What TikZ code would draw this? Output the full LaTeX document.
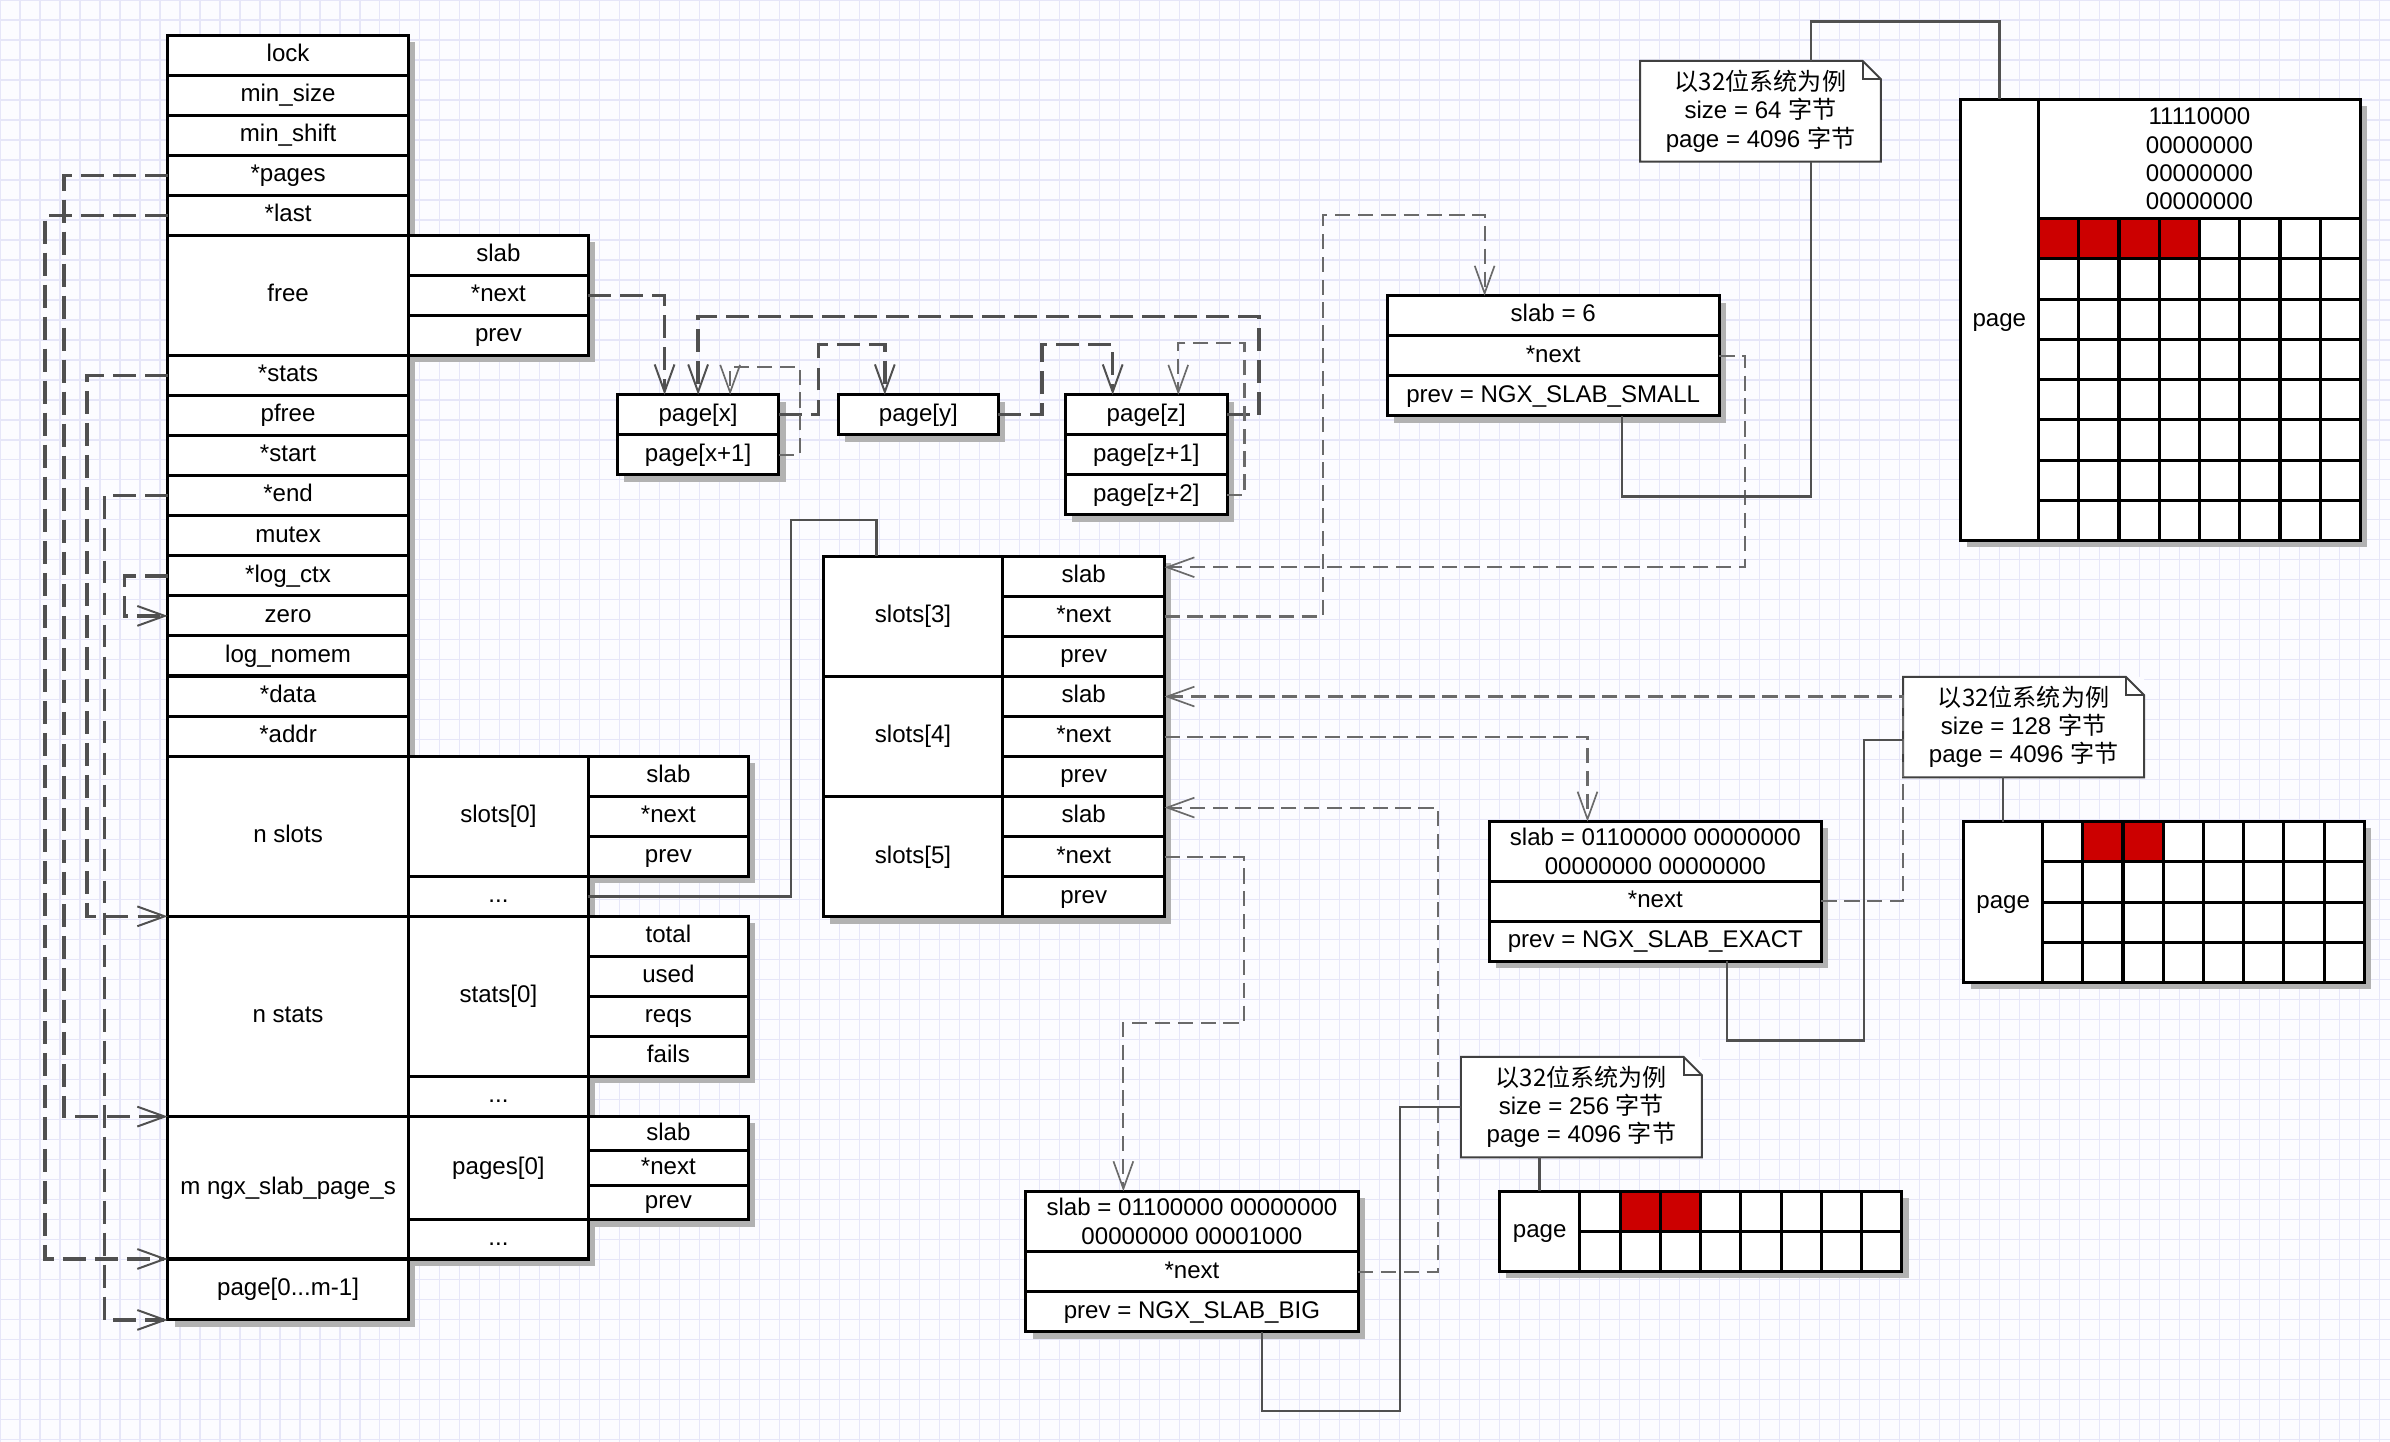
\documentclass[tikz,border=0pt]{standalone}
\usepackage{fontspec}
\setmainfont{Liberation Sans}
\newfontfamily\cjk{Noto Sans CJK SC}
\usetikzlibrary{arrows.meta,shadows}

\definecolor{paper}{RGB}{252,252,255}
\definecolor{gridline}{RGB}{230,230,248}
\definecolor{usedbit}{RGB}{204,0,0}
\definecolor{wire}{RGB}{80,80,80}

% note with a folded corner
\newcommand{\dogear}[1]{%
  \fill[paper] ([xshift = -12pt] #1.north east) -- (#1.north east) -- ([yshift = -12pt] #1.north east) -- cycle;
  \draw[notefrm] (#1.south west) -- (#1.north west) -- ([xshift = -12pt] #1.north east)
    -- ([yshift = -12pt] #1.north east) -- (#1.south east) -- cycle;
  \draw[notefrm] ([xshift = -12pt] #1.north east) |- ([yshift = -12pt] #1.north east);
}

\tikzset{
  cellbase/.style = {draw, line width = 2pt, fill = white, inner sep = 0pt,
    outer sep = 0pt, anchor = north west, minimum height = 26.28pt,
    align = center, font = \fontsize{15.8}{18.5}\selectfont,
    text height = 11.6pt, text depth = 3.4pt},
  twoline/.style = {text height = {}, text depth = {}},
  field/.style = {cellbase, drop shadow = {shadow xshift = 4.5pt,
    shadow yshift = -4.5pt, opacity = 1, fill = black!30}},
  maincol/.style = {field, minimum width = 158pt},
  subcol/.style = {field, minimum width = 118pt},
  leafcol/.style = {field, minimum width = 105pt},
  pagecol/.style = {field, minimum width = 106pt},
  infocol/.style = {field, minimum width = 218pt},
  memo/.style = {fill = white, inner sep = 0pt, outer sep = 0pt, anchor = north west,
    minimum width = 158pt, minimum height = 66pt, align = center,
    font = \fontsize{15.8}{18.5}\selectfont},
  notefrm/.style = {line width = 1.3pt, draw = black!75},
  bitcell/.style = {draw, line width = 2pt, fill = white},
  ptr/.style = {draw = wire, line width = 2.2pt, dash pattern = on 15pt off 6pt,
    -{Straight Barb[length = 18pt, width = 13pt, line width = 1.3pt]}},
  weakptr/.style = {draw = wire!85, line width = 1.4pt, dash pattern = on 10pt off 5pt,
    -{Straight Barb[length = 18pt, width = 13pt, line width = 1.1pt]}},
  solidlink/.style = {draw = wire, line width = 1.6pt}
}

\begin{document}
\begin{tikzpicture}[x = 1pt, y = -1pt]
      \useasboundingbox (0, 0) rectangle (1568, 946);

      % background
      % ----------
      \fill[paper] (0, 0) rectangle (1568, 946);
      \draw[gridline, line width = 0.7pt, xstep = 13.12pt, ystep = 13.12pt] (0, 946) grid (1568, 0);

      % slab pool
      % ---------
      \node[maincol] (lock) at (110, 23) {lock};
      \node[maincol] (minsize) at (lock.south west) {min\_size};
      \node[maincol] (minshift) at (minsize.south west) {min\_shift};
      \node[maincol] (pages) at (minshift.south west) {*pages};
      \node[maincol] (last) at (pages.south west) {*last};
      \node[maincol, minimum height = 78.84pt] (free) at (last.south west) {free};
      \node[maincol] (stats) at (free.south west) {*stats};
      \node[maincol] (pfree) at (stats.south west) {pfree};
      \node[maincol] (start) at (pfree.south west) {*start};
      \node[maincol] (endp) at (start.south west) {*end};
      \node[maincol] (mutex) at (endp.south west) {mutex};
      \node[maincol] (logctx) at (mutex.south west) {*log\_ctx};
      \node[maincol] (zero) at (logctx.south west) {zero};
      \node[maincol] (lognomem) at (zero.south west) {log\_nomem};
      \node[maincol] (data) at (lognomem.south west) {*data};
      \node[maincol] (addr) at (data.south west) {*addr};
      \node[maincol, minimum height = 105.12pt] (nslots) at (addr.south west) {n slots};
      \node[maincol, minimum height = 131.4pt] (nstats) at (nslots.south west) {n stats};
      \node[maincol, minimum height = 93.4pt] (mpages) at (nstats.south west) {m ngx\_slab\_page\_s};
      \node[maincol, minimum height = 40pt] (pagearr) at (mpages.south west) {page[0...m-1]};

      \node[subcol] (freeslab) at (free.north east) {slab};
      \node[subcol] (freenext) at (freeslab.south west) {*next};
      \node[subcol] (freeprev) at (freenext.south west) {prev};

      \node[subcol, minimum height = 78.84pt] (slotzero) at (nslots.north east) {slots[0]};
      \node[subcol] (slotdots) at (slotzero.south west) {...};
      \node[leafcol] (szslab) at (slotzero.north east) {slab};
      \node[leafcol] (sznext) at (szslab.south west) {*next};
      \node[leafcol] (szprev) at (sznext.south west) {prev};

      \node[subcol, minimum height = 105.12pt] (statzero) at (nstats.north east) {stats[0]};
      \node[subcol] (statdots) at (statzero.south west) {...};
      \node[leafcol] (sttotal) at (statzero.north east) {total};
      \node[leafcol] (stused) at (sttotal.south west) {used};
      \node[leafcol] (streqs) at (stused.south west) {reqs};
      \node[leafcol] (stfails) at (streqs.south west) {fails};

      \node[subcol, minimum height = 67.6pt] (pagezero) at (mpages.north east) {pages[0]};
      \node[subcol, minimum height = 25.8pt] (pagedots) at (pagezero.south west) {...};
      \node[leafcol, minimum height = 22.53pt] (pzslab) at (pagezero.north east) {slab};
      \node[leafcol, minimum height = 22.53pt] (pznext) at (pzslab.south west) {*next};
      \node[leafcol, minimum height = 22.54pt] (pzprev) at (pznext.south west) {prev};

      % free pages
      % ----------
      \node[pagecol] (pagex) at (405, 259) {page[x]};
      \node[pagecol] (pagexa) at (pagex.south west) {page[x+1]};
      \node[pagecol, minimum width = 105pt] (pagey) at (550, 259) {page[y]};
      \node[pagecol] (pagez) at (699, 259) {page[z]};
      \node[pagecol] (pageza) at (pagez.south west) {page[z+1]};
      \node[pagecol] (pagezb) at (pageza.south west) {page[z+2]};

      % slots
      % -----
      \node[subcol, minimum height = 78.84pt] (slotthree) at (540, 365) {slots[3]};
      \node[leafcol, minimum width = 106pt] (s3slab) at (slotthree.north east) {slab};
      \node[leafcol, minimum width = 106pt] (s3next) at (s3slab.south west) {*next};
      \node[leafcol, minimum width = 106pt] (s3prev) at (s3next.south west) {prev};
      \node[subcol, minimum height = 78.84pt] (slotfour) at (slotthree.south west) {slots[4]};
      \node[leafcol, minimum width = 106pt] (s4slab) at (slotfour.north east) {slab};
      \node[leafcol, minimum width = 106pt] (s4next) at (s4slab.south west) {*next};
      \node[leafcol, minimum width = 106pt] (s4prev) at (s4next.south west) {prev};
      \node[subcol, minimum height = 78.84pt] (slotfive) at (slotfour.south west) {slots[5]};
      \node[leafcol, minimum width = 106pt] (s5slab) at (slotfive.north east) {slab};
      \node[leafcol, minimum width = 106pt] (s5next) at (s5slab.south west) {*next};
      \node[leafcol, minimum width = 106pt] (s5prev) at (s5next.south west) {prev};

      % page headers
      % ------------
      \node[infocol] (smslab) at (910, 194) {slab = 6};
      \node[infocol] (smnext) at (smslab.south west) {*next};
      \node[infocol] (smprev) at (smnext.south west) {prev = NGX\_SLAB\_SMALL};

      \node[infocol, twoline, minimum height = 39pt] (exslab) at (977, 539) {slab = 01100000 00000000\\00000000 00000000};
      \node[infocol] (exnext) at (exslab.south west) {*next};
      \node[infocol] (exprev) at (exnext.south west) {prev = NGX\_SLAB\_EXACT};

      \node[infocol, twoline, minimum height = 39.7pt] (bgslab) at (673, 781.5) {slab = 01100000 00000000\\00000000 00001000};
      \node[infocol] (bgnext) at (bgslab.south west) {*next};
      \node[infocol] (bgprev) at (bgnext.south west) {prev = NGX\_SLAB\_BIG};

      % notes
      % -----
      \node[memo] (noteone) at (1076, 40) {{\cjk 以32位系统为例}\\size = 64 {\cjk 字节}\\page = 4096 {\cjk 字节}};
      \dogear{noteone}
      \node[memo] (notetwo) at (1248.6, 444) {{\cjk 以32位系统为例}\\size = 128 {\cjk 字节}\\page = 4096 {\cjk 字节}};
      \dogear{notetwo}
      \node[memo] (notethree) at (958.5, 693.3) {{\cjk 以32位系统为例}\\size = 256 {\cjk 字节}\\page = 4096 {\cjk 字节}};
      \dogear{notethree}

      % pages
      % -----
      \node[field, minimum width = 262.6pt, minimum height = 289.6pt] (pgone) at (1286, 65) {};
      \node[cellbase, minimum width = 51.4pt, minimum height = 289.6pt] (pgonelabel) at (pgone.north west) {page};
      \node[cellbase, twoline, minimum width = 211.2pt, minimum height = 78.4pt] (pgonebits) at (pgonelabel.north east) {11110000\\00000000\\00000000\\00000000};
      \foreach \row in {0, ..., 7}
        \foreach \col in {0, ..., 7}
          \draw[bitcell] ([shift = {({26.4*\col}, {26.4*\row})}] pgonebits.south west) rectangle ++(26.4, 26.4);
      \foreach \col in {0, ..., 3}
        \draw[bitcell, fill = usedbit] ([shift = {({26.4*\col}, 0)}] pgonebits.south west) rectangle ++(26.4, 26.4);

      \node[field, minimum width = 262.8pt, minimum height = 105.6pt] (pgtwo) at (1288.4, 539) {};
      \node[cellbase, minimum width = 51.6pt, minimum height = 105.6pt] (pgtwolabel) at (pgtwo.north west) {page};
      \foreach \row in {0, ..., 3}
        \foreach \col in {0, ..., 7}
          \draw[bitcell] ([shift = {({26.4*\col}, {26.4*\row})}] pgtwolabel.north east) rectangle ++(26.4, 26.4);
      \foreach \col in {1, 2}
        \draw[bitcell, fill = usedbit] ([shift = {({26.4*\col}, 0)}] pgtwolabel.north east) rectangle ++(26.4, 26.4);

      \node[field, minimum width = 264pt, minimum height = 52.8pt] (pgthree) at (983.7, 781.4) {};
      \node[cellbase, minimum width = 52.8pt, minimum height = 52.8pt] (pgthreelabel) at (pgthree.north west) {page};
      \foreach \row in {0, 1}
        \foreach \col in {0, ..., 7}
          \draw[bitcell] ([shift = {({26.4*\col}, {26.4*\row})}] pgthreelabel.north east) rectangle ++(26.4, 26.4);
      \foreach \col in {1, 2}
        \draw[bitcell, fill = usedbit] ([shift = {({26.4*\col}, 0)}] pgthreelabel.north east) rectangle ++(26.4, 26.4);

      % pool pointers
      % -------------
      \draw[ptr] (pages.west) -- ++(-68, 0) |- (mpages.north west);
      \draw[ptr] (last.west) -- ++(-80.5, 0) |- (pagearr.north west);
      \draw[ptr] (stats.west) -- ++(-53, 0) |- (nstats.north west);
      \draw[ptr] (endp.west) -- ++(-41.5, 0) |- (pagearr.south west);
      \draw[ptr] (logctx.west) -- ++(-28.5, 0) |- (zero.west);

      % free list
      % ---------
      \draw[ptr] (freenext.east) -| ([xshift = -22pt] pagex.north);
      \draw[ptr] (pagex.east) -- ++(26, 0) -- ++(0, -46) -| ([xshift = -22pt] pagey.north);
      \draw[ptr] (pagey.east) -- ++(28.5, 0) -- ++(0, -46) -| ([xshift = -22pt] pagez.north);
      \draw[ptr] (pagez.east) -- ++(21, 0) -- ++(0, -64.5) -| (pagex.north);
      \draw[weakptr] (pagexa.east) -- ++(14, 0) -- ++(0, -57.5) -| ([xshift = 21pt] pagex.north);
      \draw[weakptr] (pagezb.east) -- ++(11.5, 0) -- ++(0, -99.7) -| ([xshift = 21pt] pagez.north);

      % slot lists
      % ----------
      \draw[weakptr] (s3next.east) -| (868, 141.3) -| ([xshift = -45pt] smslab.north);
      \draw[weakptr] (smnext.east) -- ++(17, 0) |- ([yshift = 6pt] s3slab.east);
      \draw[weakptr] (s4next.east) -| ([xshift = -44.5pt] exslab.north);
      \draw[weakptr] (exnext.east) -- ++(53.5, 0) |- (s4slab.east);
      \draw[weakptr] (s5next.east) -- ++(52.4, 0) -- ++(0, 108.8) -| ([xshift = -45pt] bgslab.north);
      \draw[weakptr] (bgnext.east) -- ++(52.5, 0) |- ([yshift = 6pt] s5slab.east);

      % links
      % -----
      \draw[solidlink] (slotdots.east) -- ++(132.8, 0) |- (575, 341) -- ([xshift = -24pt] slotthree.north);
      \draw[solidlink] ([xshift = 45pt] smprev.south) -- ++(0, 53) -| ([xshift = 33pt] noteone.south);
      \draw[solidlink] ([xshift = 33pt] noteone.north) -- ++(0, -26) -| (pgonelabel.north);
      \draw[solidlink] ([xshift = 47pt] exprev.south) -- ++(0, 52) -- ++(90, 0) |- ([yshift = -8.5pt] notetwo.west);
      \draw[solidlink] (pgtwolabel.north |- notetwo.south) -- (pgtwolabel.north);
      \draw[solidlink] ([xshift = 46pt] bgprev.south) -- ++(0, 52) -- ++(90.5, 0) |- (notethree.west);
      \draw[solidlink] (pgthreelabel.north |- notethree.south) -- (pgthreelabel.north);
\end{tikzpicture}
\end{document}
